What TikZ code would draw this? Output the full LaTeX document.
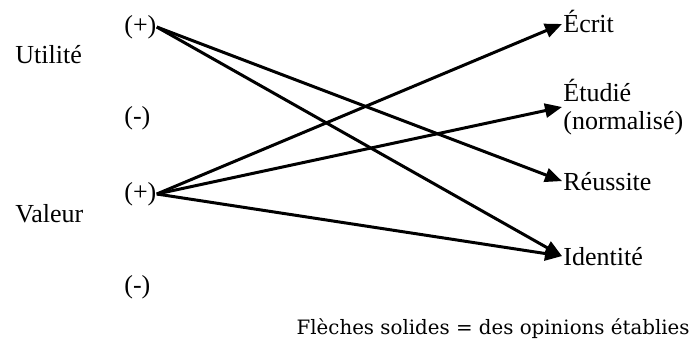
\documentclass[tikz,border=0pt]{standalone}
\usepackage{fontspec}
\setmainfont{Liberation Serif}
\newfontfamily\footfont{DejaVu Serif}
\usetikzlibrary{arrows.meta}
\begin{document}
\begin{tikzpicture}[x=0.5pt,y=-0.5pt,
  lbl/.style={inner sep=0pt,font=\fontsize{13}{15}\selectfont},
  sgn/.style={inner sep=0pt,anchor=west,font=\fontsize{13}{15}\selectfont},
  tgt/.style={inner sep=0.5pt,anchor=base west,font=\fontsize{13}{15}\selectfont},
  arr/.style={line width=1.5pt,-{Triangle[length=8.5pt,width=7pt]}}]
\useasboundingbox (0,0) rectangle (691,345);
\node[lbl,anchor=base west] (util) at (15,63) {Utilité};
\node[lbl,anchor=base west] (val) at (15,222) {Valeur};
\node[sgn] (p1) at (124,27) {(+)};
\node[sgn] (m1) at (124,118) {(-)};
\node[sgn] (p2) at (124,194) {(+)};
\node[sgn] (m2) at (124,287) {(-)};
\node[tgt] (ecr) at (562,32) {Écrit};
\node[inner sep=0.5pt,anchor=west,align=left,font=\fontsize{13}{14}\selectfont] (etu) at (562,107) {Étudié\\(normalisé)};
\node[tgt] (reu) at (562,190) {Réussite};
\node[tgt] (ide) at (562,265) {Identité};
\node[inner sep=0pt,anchor=base east,font=\footfont\fontsize{9.9}{11}\selectfont] (leg) at (690,334) {Flèches solides = des opinions établies};
\draw[arr] (p1.east) -- (reu.west);
\draw[arr] (p1.east) -- (ide.west);
\draw[arr] (p2.east) -- ([yshift=-1.5pt]ecr.west);
\draw[arr] (p2.east) -- (etu.west);
\draw[arr] (p2.east) -- (ide.west);
\end{tikzpicture}
\end{document}
